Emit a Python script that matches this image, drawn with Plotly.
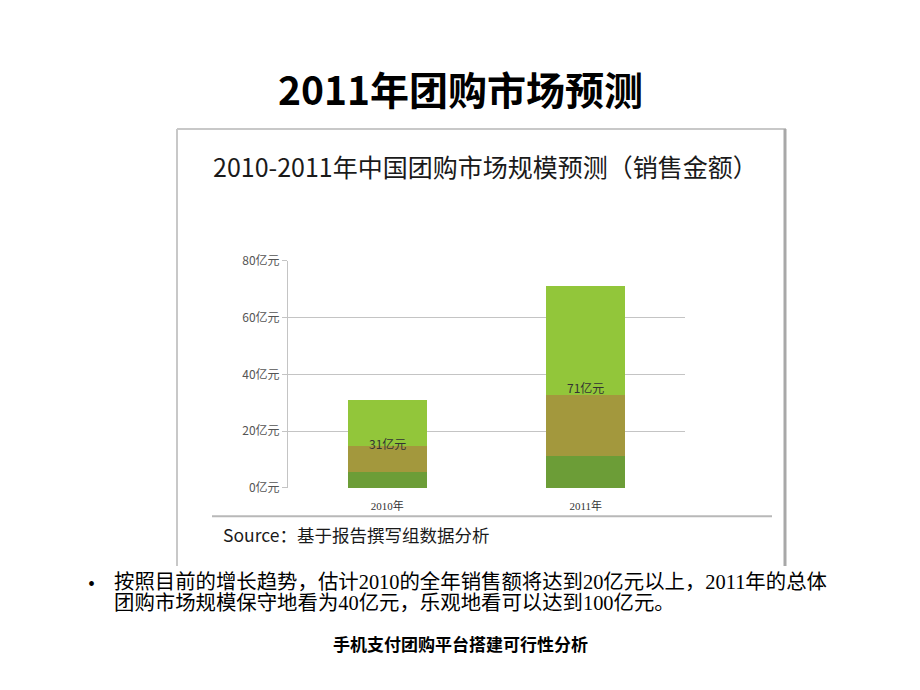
import plotly.graph_objects as go

# ---- data ----
years = ["2010年", "2011年"]
bottom_seg = [5.5, 11.3]
middle_seg = [9.3, 21.3]
top_seg = [16.2, 38.4]
totals = [31, 71]
total_labels = ["31亿元", "71亿元"]
y_ticks = [0, 20, 40, 60, 80]
y_tick_labels = ["0亿元", "20亿元", "40亿元", "60亿元", "80亿元"]

W, H = 920, 690
def px(x):
    return x / W
def py(y):
    return 1 - y / H

CJK = "Noto Sans CJK SC"

fig = go.Figure()
seg_colors = ["#6c9d37", "#a3983d", "#92c63a"]
for vals, col in zip([bottom_seg, middle_seg, top_seg], seg_colors):
    fig.add_trace(go.Bar(x=years, y=vals, width=0.4, marker=dict(color=col, line=dict(width=0)),
                         hoverinfo="skip", showlegend=False))

annotations = []
for yr, tot, lab in zip(years, totals, total_labels):
    annotations.append(dict(x=yr, y=tot / 2, xref="x", yref="y", text=lab, showarrow=False,
                            font=dict(family=CJK, size=12, color="#333333")))

serif = "Liberation Serif, Noto Sans CJK SC"
# slide texts
annotations += [
    dict(x=0.5, y=py(80), xref="paper", yref="paper", text="<b>2011年团购市场预测</b>", showarrow=False,
         font=dict(family=CJK, size=39, color="#000000"), xanchor="center", yanchor="middle"),
    dict(x=px(486), y=py(160), xref="paper", yref="paper", text="2010-2011年中国团购市场规模预测（销售金额）",
         showarrow=False, font=dict(family=CJK, size=25, color="#1a1a1a"), xanchor="center", yanchor="middle"),
    dict(x=px(221), y=py(538), xref="paper", yref="paper", text="Source：基于报告撰写组数据分析",
         showarrow=False, font=dict(family=CJK, size=17.5, color="#1a1a1a"), xanchor="left", yanchor="middle"),
    dict(x=px(86), y=py(588), xref="paper", yref="paper", text="•",
         showarrow=False, font=dict(family="Liberation Serif", size=20, color="#000000"), xanchor="left", yanchor="middle"),
    dict(x=px(112), y=py(586), xref="paper", yref="paper",
         text="按照目前的增长趋势，估计2010的全年销售额将达到20亿元以上，2011年的总体",
         showarrow=False, align="left", font=dict(family=serif, size=20.4, color="#000000"),
         xanchor="left", yanchor="middle"),
    dict(x=px(112), y=py(608), xref="paper", yref="paper",
         text="团购市场规模保守地看为40亿元，乐观地看可以达到100亿元。",
         showarrow=False, align="left", font=dict(family=serif, size=20.4, color="#000000"),
         xanchor="left", yanchor="middle"),
    dict(x=0.5, y=py(650), xref="paper", yref="paper", text="<b>手机支付团购平台搭建可行性分析</b>",
         showarrow=False, font=dict(family=CJK, size=17, color="#000000"), xanchor="center", yanchor="middle"),
]

shapes = [
    dict(type="line", xref="paper", yref="paper", x0=px(177), x1=px(177), y0=py(122), y1=py(570),
         line=dict(color="#c8c8c8", width=2)),
    dict(type="line", xref="paper", yref="paper", x0=px(177), x1=px(786), y0=py(122), y1=py(122),
         line=dict(color="#c8c8c8", width=2)),
    dict(type="line", xref="paper", yref="paper", x0=px(785), x1=px(785), y0=py(122), y1=py(570),
         line=dict(color="#a8a8a8", width=3)),
    dict(type="line", xref="paper", yref="paper", x0=px(212), x1=px(772), y0=py(519), y1=py(519),
         line=dict(color="#b8b8b8", width=2)),
]

fig.update_layout(
    width=W, height=H, margin=dict(l=0, r=0, t=0, b=0),
    paper_bgcolor="white", plot_bgcolor="white",
    barmode="stack", bargap=0.6,
    annotations=annotations, shapes=shapes,
    xaxis=dict(domain=[px(288), px(685)], showgrid=False, showline=False, ticks="",
               ticklabelstandoff=10,
               tickfont=dict(family=serif, size=11, color="#333333"),
               fixedrange=True),
    yaxis=dict(domain=[py(490), py(257)], range=[0, 80], tickvals=y_ticks, ticktext=y_tick_labels,
               showgrid=True, gridcolor="#c4c4c4", gridwidth=1, zeroline=False,
               showline=True, linecolor="#c4c4c4", linewidth=1, ticks="outside", ticklen=5,
               tickcolor="#c4c4c4", tickfont=dict(family=CJK, size=12, color="#555555"), fixedrange=True),
    font=dict(family=CJK),
)

fig.write_html("out.html")
